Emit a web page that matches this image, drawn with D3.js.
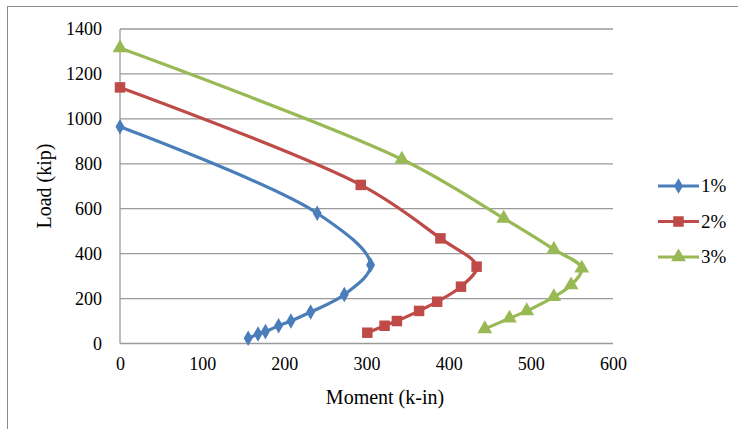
<!DOCTYPE html>
<html><head><meta charset="utf-8">
<script src="https://cdn.jsdelivr.net/npm/d3@7"></script>
<style>body{margin:0;background:#fff}svg{display:block}svg text{font-family:"Liberation Serif","Times New Roman",serif !important;fill:#000}</style>
</head><body>
<svg id="c" width="738" height="429"></svg>
<script>
const seriesNames = ["1%", "2%", "3%"];
const colors = ["#4a7ebb", "#be4b48", "#98b954"];
const markers = ["diamond", "square", "triangle"];
const moment1 = [0, 240, 305, 273, 232, 208, 193, 177, 168, 156];
const load1   = [965, 580, 350, 218, 140, 100, 79, 53, 42, 23];
const moment2 = [0, 293, 390, 434, 415, 386, 364, 337, 322, 301];
const load2   = [1140, 706, 468, 342, 253, 186, 145, 100, 79, 48];
const moment3 = [0, 343, 467, 528, 562, 549, 528, 495, 474, 444];
const load3   = [1315, 820, 557, 419, 335, 260, 208, 145, 112, 65];
const xTicks = [0, 100, 200, 300, 400, 500, 600];
const yTicks = [0, 200, 400, 600, 800, 1000, 1200, 1400];

const series = [[moment1, load1], [moment2, load2], [moment3, load3]].map((s, i) => ({
  name: seriesNames[i], color: colors[i], marker: markers[i],
  pts: s[0].map((m, j) => ({x: m, y: s[1][j]}))
}));

const svg = d3.select("#c");
const serif = '"Liberation Serif","Times New Roman",serif';
// outer frame
svg.append("rect").attr("x", 7.5).attr("y", 6.5).attr("width", 760).attr("height", 440)
  .attr("fill", "none").attr("stroke", "#8a8a8a").attr("stroke-width", 1);

const x = d3.scaleLinear().domain([0, 600]).range([120, 613]);
const y = d3.scaleLinear().domain([0, 1400]).range([343.5, 29]);

// gridlines
svg.append("g").selectAll("line").data(yTicks).join("line")
  .attr("x1", x(0)).attr("x2", x(600)).attr("y1", d => y(d)).attr("y2", d => y(d))
  .attr("stroke", "#9a9a9a").attr("stroke-width", 1.3);
// y axis line
svg.append("line").attr("x1", x(0)).attr("x2", x(0)).attr("y1", y(0)).attr("y2", y(1400))
  .attr("stroke", "#9a9a9a").attr("stroke-width", 1.3);

// axes (labels only)
const yAxis = d3.axisLeft(y).tickValues(yTicks).tickFormat(d3.format("d")).tickSize(0).tickPadding(18);
const gy = svg.append("g").attr("transform", `translate(${x(0)},0)`).call(yAxis);
gy.attr("font-family", serif).attr("font-size", 18);
gy.select(".domain").remove();
gy.selectAll("text").style("font-family", serif).style("font-size", "18px");
const xAxis = d3.axisBottom(x).tickValues(xTicks).tickFormat(d3.format("d")).tickSize(0).tickPadding(14);
const gx = svg.append("g").attr("transform", `translate(0,${y(0)})`).call(xAxis);
gx.attr("font-family", serif).attr("font-size", 18);
gx.select(".domain").remove();
gx.selectAll("text").style("font-family", serif).style("font-size", "18px");

svg.append("text").attr("x", 385).attr("y", 404).attr("text-anchor", "middle")
  .style("font-size", "20px").text("Moment (k-in)");
svg.append("text").attr("transform", `translate(51,186) rotate(-90)`).attr("text-anchor", "middle")
  .style("font-size", "20px").text("Load (kip)");

const symType = {diamond: d3.symbolDiamond, square: d3.symbolSquare, triangle: d3.symbolTriangle};
const symSize = {diamond: 70, square: 110, triangle: 95};
const line = d3.line().x(d => x(d.x)).y(d => y(d.y)).curve(d3.curveCatmullRom.alpha(0.5));

series.forEach(s => {
  svg.append("path").attr("d", line(s.pts)).attr("fill", "none")
    .attr("stroke", s.color).attr("stroke-width", 3.2).attr("stroke-linejoin", "round");
  svg.append("g").selectAll("path").data(s.pts).join("path")
    .attr("transform", d => `translate(${x(d.x)},${y(d.y)})`)
    .attr("d", d3.symbol().type(symType[s.marker]).size(symSize[s.marker]))
    .attr("fill", s.color);
});

// legend
const leg = svg.append("g");
series.forEach((s, i) => {
  const ly = 186 + i * 35.5;
  leg.append("line").attr("x1", 658).attr("x2", 699).attr("y1", ly).attr("y2", ly)
    .attr("stroke", s.color).attr("stroke-width", 3.2);
  leg.append("path").attr("transform", `translate(678.5,${ly})`)
    .attr("d", d3.symbol().type(symType[s.marker]).size(symSize[s.marker]))
    .attr("fill", s.color);
  leg.append("text").attr("x", 701).attr("y", ly + 6).style("font-size", "19px").text(s.name);
});
</script>
</body></html>
